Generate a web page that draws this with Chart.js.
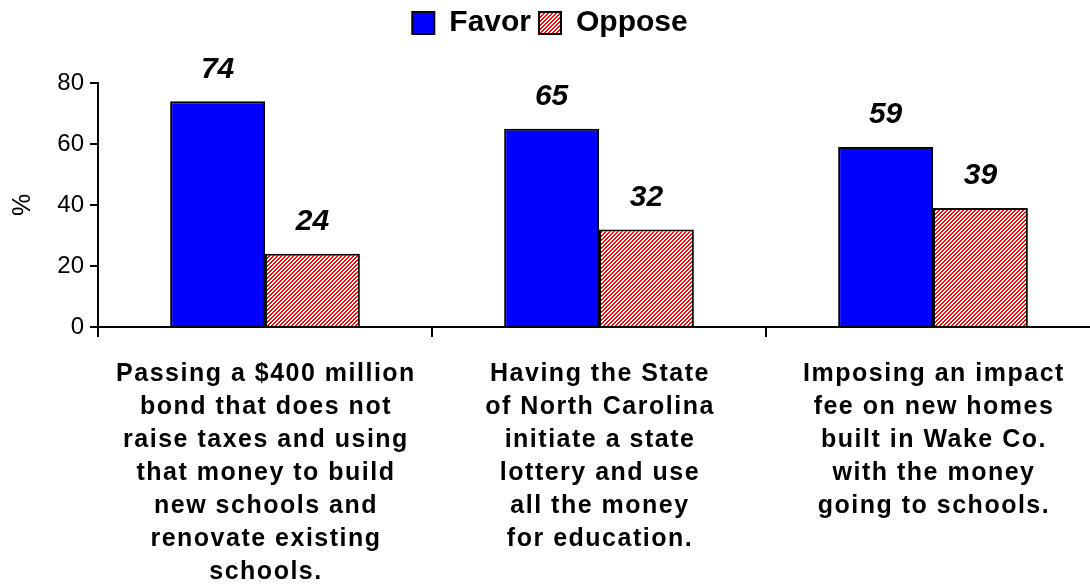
<!DOCTYPE html>
<html lang="en">
<head>
<meta charset="UTF-8">
<title>Favor / Oppose</title>
<script src="https://cdn.jsdelivr.net/npm/chart.js"></script>
<style>
  html, body { margin: 0; padding: 0; background: #fff; overflow: hidden; }
  #wrap { width: 1100px; height: 588px; }
</style>
</head>
<body>
<div id="wrap"><canvas id="chart"></canvas></div>
<script>
// question texts, one array of lines per category
const categories = [
  ['Passing a $400 million', 'bond that does not', 'raise taxes and using', 'that money to build', 'new schools and', 'renovate existing', 'schools.'],
  ['Having the State', 'of North Carolina', 'initiate a state', 'lottery and use', 'all the money', 'for education.'],
  ['Imposing an impact', 'fee on new homes', 'built in Wake Co.', 'with the money', 'going to schools.']
];
const favor = [74, 65, 59];
const oppose = [24, 32, 39];
const yTicks = [0, 20, 40, 60, 80];

const FONT = '"Liberation Sans", Arial, sans-serif';

// red diagonal hatch for the Oppose bars
function hatch() {
  const c = document.createElement('canvas');
  c.width = 4; c.height = 4;
  const g = c.getContext('2d');
  g.fillStyle = '#fff';
  g.fillRect(0, 0, 4, 4);
  g.fillStyle = '#ff0000';
  for (let y = 0; y < 4; y++) {
    for (let x = 0; x < 4; x++) {
      if ((x + y) % 4 < 2) g.fillRect(x, y, 1, 1);
    }
  }
  return g.createPattern(c, 'repeat');
}

// extra room between the legend and the plot
const legendGap = {
  id: 'legendGap',
  beforeInit(chart) {
    const fit = chart.legend.fit;
    chart.legend.fit = function () {
      fit.bind(chart.legend)();
      this.height += 35;
    };
  }
};

// bold italic numbers above each bar
const valueLabels = {
  id: 'valueLabels',
  afterDatasetsDraw(chart) {
    const ctx = chart.ctx;
    ctx.save();
    ctx.font = 'italic bold 30px ' + FONT;
    ctx.fillStyle = '#000';
    ctx.textAlign = 'center';
    ctx.textBaseline = 'middle';
    chart.data.datasets.forEach((ds, i) => {
      chart.getDatasetMeta(i).data.forEach((bar, j) => {
        ctx.fillText(ds.data[j], bar.x, bar.y - 32);
      });
    });
    ctx.restore();
  }
};

// multi-line category captions under the x axis
const categoryLabels = {
  id: 'categoryLabels',
  afterDraw(chart) {
    const ctx = chart.ctx;
    const xs = chart.scales.x;
    ctx.save();
    ctx.font = 'bold 25px ' + FONT;
    ctx.letterSpacing = '1.5px';
    ctx.fillStyle = '#000';
    ctx.textAlign = 'center';
    ctx.textBaseline = 'alphabetic';
    categories.forEach((lines, i) => {
      const cx = xs.getPixelForValue(i) + 1;
      lines.forEach((line, k) => {
        ctx.fillText(line, cx, 381 + k * 33);
      });
    });
    ctx.restore();
  }
};

const ctx = document.getElementById('chart').getContext('2d');
new Chart(ctx, {
  type: 'bar',
  data: {
    labels: categories.map(l => l.join(' ')),
    datasets: [
      {
        label: 'Favor',
        data: favor,
        backgroundColor: '#0000ff',
        borderColor: '#000',
        borderWidth: 2,
        borderSkipped: 'bottom'
      },
      {
        label: 'Oppose',
        data: oppose,
        backgroundColor: hatch(),
        borderColor: '#000',
        borderWidth: 2,
        borderSkipped: 'bottom'
      }
    ]
  },
  options: {
    responsive: true,
    maintainAspectRatio: false,
    animation: false,
    layout: { padding: { top: 0, right: 0, bottom: 0, left: 0 } },
    datasets: {
      bar: { categoryPercentage: 0.568, barPercentage: 1.0 }
    },
    plugins: {
      legend: {
        position: 'top',
        labels: {
          boxWidth: 22,
          boxHeight: 22,
          padding: 8,
          color: '#000',
          font: { family: FONT, size: 30, weight: 'bold' }
        }
      },
      tooltip: { enabled: false }
    },
    scales: {
      x: {
        grid: {
          display: true,
          drawOnChartArea: false,
          offset: true,
          tickLength: 10,
          color: '#000',
          lineWidth: 2
        },
        border: { color: '#000', width: 2 },
        ticks: { display: false },
        afterFit(scale) { scale.height = 261; }
      },
      y: {
        min: 0,
        max: 80,
        afterBuildTicks(scale) { scale.ticks = yTicks.map(v => ({ value: v })); },
        grid: {
          display: true,
          drawOnChartArea: false,
          tickLength: 8,
          color: '#000',
          lineWidth: 2
        },
        border: { color: '#000', width: 2 },
        ticks: {
          color: '#000',
          padding: 6,
          font: { family: FONT, size: 24 }
        },
        title: {
          display: true,
          text: '%',
          color: '#000',
          padding: { top: 8, bottom: 0 },
          font: { family: FONT, size: 25 }
        },
        afterFit(scale) { scale.width = 98; }
      }
    }
  },
  plugins: [legendGap, valueLabels, categoryLabels]
});
</script>
</body>
</html>
